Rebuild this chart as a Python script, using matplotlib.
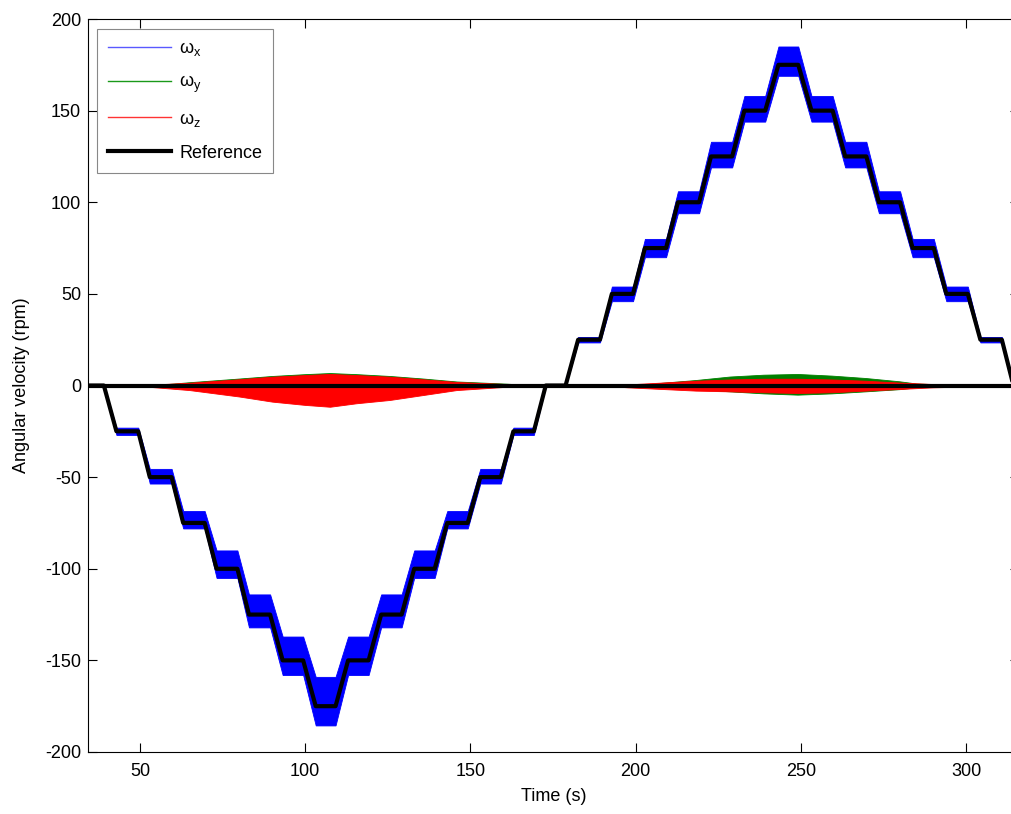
import matplotlib
matplotlib.use('Agg')
import matplotlib.pyplot as plt
import numpy as np

# Reference profile: one entry per plateau (level in rpm, start and end time in s)
plateau_level = [0, -25, -50, -75, -100, -125, -150, -175, -150, -125, -100, -75, -50, -25,
                 0, 25, 50, 75, 100, 125, 150, 175, 150, 125, 100, 75, 50, 25, 0]
plateau_start = [34.3, 42.9, 53.0, 63.1, 73.2, 83.0, 93.2, 103.2, 113.0, 123.0, 133.0, 143.0, 153.0, 163.0,
                 172.8, 182.6, 192.8, 202.8, 212.8, 222.8, 232.9, 243.2, 253.2, 263.4, 273.6, 283.8, 294.0, 304.3,
                 314.3]
plateau_end = [39.1, 49.5, 59.6, 69.6, 79.5, 89.4, 99.4, 109.2, 119.2, 129.2, 139.2, 149.2, 159.2, 169.2,
               178.8, 189.2, 199.2, 209.2, 219.2, 229.2, 239.2, 249.2, 259.6, 269.8, 280.0, 290.2, 300.5, 310.8,
               316.0]

# Extent of the omega_x oscillation band on each plateau (rpm)
wx_top = [0.5, -23, -45.5, -68.5, -90, -114, -137, -159, -137, -114, -90, -68.5, -45.5, -23,
          0.5, 26.5, 54, 80, 106, 133, 158, 185, 158, 133, 106, 80, 54, 26.5, 0.5]
wx_bottom = [-0.5, -27, -53.5, -78, -105, -132, -158, -185.5, -158, -132, -105, -78, -53.5, -27,
             -0.5, 23.5, 46, 70, 94, 119, 144, 169, 144, 119, 94, 70, 46, 23.5, -0.5]

# omega_y / omega_z envelopes around zero
wz_time = [34.3, 50, 65, 80, 90, 100, 107.5, 115.5, 125.6, 135.7, 145.8, 161, 166, 190, 197.6, 207.9, 218.2,
           228.5, 238.7, 249, 259.3, 269.5, 279.8, 290, 302, 316]
wz_top = [0, 0.2, 1.5, 3.4, 4.8, 5.7, 6.3, 5.7, 4.8, 3.4, 1.9, 0.8, 0, 0, 0.6, 1.6, 2.6, 3.3, 3.7, 3.7, 3.3,
          2.6, 1.6, 0.8, 0.4, 0]
wz_bottom = [0, -0.3, -2.5, -6.0, -8.8, -10.6, -11.6, -9.7, -7.9, -5.2, -2.5, -0.7, 0, 0, -1.0, -1.9, -2.8,
             -3.2, -3.7, -4.1, -3.7, -2.8, -1.9, -1.0, -0.5, 0]

wy_time = [34.3, 55, 65, 80, 90, 100, 107.5, 115.5, 125.6, 135.7, 145.8, 161, 170, 200, 208, 218.2, 228.5,
           238.7, 249, 259.3, 269.5, 279.8, 284.9, 295, 316]
wy_top = [0, 0.3, 1.8, 3.8, 5.2, 6.2, 6.8, 6.2, 5.2, 3.8, 2.2, 1.0, 0, 0, 1.5, 3.0, 4.9, 5.9, 6.3, 5.4, 4.1,
          2.3, 1.1, 0.4, 0]
wy_bottom = [0, -0.2, -1.5, -3, -4, -5, -5.5, -5, -4, -3, -1.5, -0.5, 0, 0, -1.0, -2.0, -3.2, -4.3, -5.0,
             -4.3, -3.2, -2.0, -1.0, -0.3, 0]

# Reference for the y and z axes is zero over the whole run
zero_ref_time = [34.3, 316.0]
zero_ref_value = [0, 0]

plt.rcParams['font.family'] = ['Liberation Sans', 'DejaVu Sans']
plt.rcParams['mathtext.fontset'] = 'custom'
plt.rcParams['mathtext.rm'] = 'Liberation Sans'
plt.rcParams['mathtext.it'] = 'Liberation Sans'
plt.rcParams['axes.unicode_minus'] = False

# Piecewise path through the plateaus
ref_t = np.ravel(np.column_stack([plateau_start, plateau_end]))
ref_v = np.repeat(plateau_level, 2)
top_v = np.repeat(wx_top, 2)
bot_v = np.repeat(wx_bottom, 2)

fig = plt.figure(figsize=(10.12, 8.14), dpi=100)
ax = fig.add_axes([88 / 1012, 62 / 814, 0.92, 733 / 814])

ax.fill_between(ref_t, bot_v, top_v, color='blue', lw=0.6)
ax.fill_between(wy_time, wy_bottom, wy_top, color=(0, 0.5, 0), lw=0.6)
ax.fill_between(wz_time, wz_bottom, wz_top, color='red', lw=0.6)
ax.plot(ref_t, ref_v, color='black', lw=3)
ax.plot(zero_ref_time, zero_ref_value, color='black', lw=3)

# Legend entries
h1, = ax.plot([], [], color=(0.35, 0.35, 1.0), lw=1)
h2, = ax.plot([], [], color=(0.1, 0.6, 0.1), lw=1)
h3, = ax.plot([], [], color=(1.0, 0.2, 0.2), lw=1)
h4, = ax.plot([], [], color='black', lw=3)
leg = ax.legend([h1, h2, h3, h4],
                ['ω$_\\mathregular{x}$', 'ω$_\\mathregular{y}$', 'ω$_\\mathregular{z}$', 'Reference'],
                loc='upper left', bbox_to_anchor=(97 / 1012, 1 - 29 / 814),
                bbox_transform=fig.transFigure, borderaxespad=0, fontsize=13,
                handlelength=3.5, handletextpad=0.45, labelspacing=0.88,
                fancybox=False, framealpha=1, edgecolor='#888888', borderpad=0.6)
leg.get_frame().set_linewidth(0.8)

ax.set_xlim(34.3, 316.0)
ax.set_ylim(-200, 200)
ax.set_xticks([50, 100, 150, 200, 250, 300])
ax.set_yticks(np.arange(-200, 201, 50))
ax.tick_params(direction='in', top=True, right=True, length=6.5, width=0.8, labelsize=13)
ax.tick_params(axis='x', pad=8)
ax.tick_params(axis='y', pad=5)
for s in ax.spines.values():
    s.set_linewidth(0.8)

ax.set_xlabel('Time (s)', fontsize=13, labelpad=6)
ax.set_ylabel('Angular velocity (rpm)', fontsize=13, labelpad=11)

fig.savefig('out.png', dpi=100)
